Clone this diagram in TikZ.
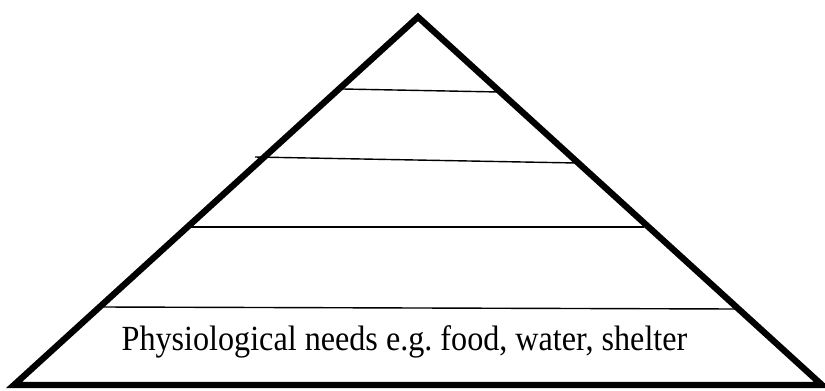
\documentclass[tikz,border=0pt]{standalone}
\usepackage{fontspec}
\setmainfont{Liberation Serif}
\usepackage{graphicx}
\usepackage{tikz}
\usetikzlibrary{calc,positioning}
\definecolor{darkgray}{HTML}{000000}
\tikzset{
  pyramidline/.style={darkgray, line width=3.6pt, line join=miter},
  tierline/.style={darkgray, line width=0.8pt},
  tiertext/.style={inner sep=0pt, anchor=base, font=\fontsize{18.3}{22}\selectfont}
}
\begin{document}
\begin{tikzpicture}[x=0.02cm, y=-0.02cm]
  \useasboundingbox (0,0) rectangle (825,390);
  \coordinate (apex) at (418,17);
  \coordinate (baseL) at (14,385);
  \coordinate (baseR) at (822,385);
  \draw[pyramidline] (apex) -- (baseR) -- (baseL) -- cycle;
  % tiers
  \coordinate (t1L) at (343,89);  \coordinate (t1R) at (500,92);
  \coordinate (t2L) at (255,157); \coordinate (t2R) at (577,163);
  \coordinate (t3L) at (190,227); \coordinate (t3R) at (644,227);
  \coordinate (t4L) at (104,307); \coordinate (t4R) at (737,309);
  \draw[tierline] (t1L) -- (t1R);
  \draw[tierline] (t2L) -- (t2R);
  \draw[tierline] (t3L) -- (t3R);
  \draw[tierline] (t4L) -- (t4R);
  \node[tiertext] (base) at (404.5,350) {\scalebox{1}[1.1]{Physiological needs e.g.\ food, water, shelter}};
\end{tikzpicture}
\end{document}
